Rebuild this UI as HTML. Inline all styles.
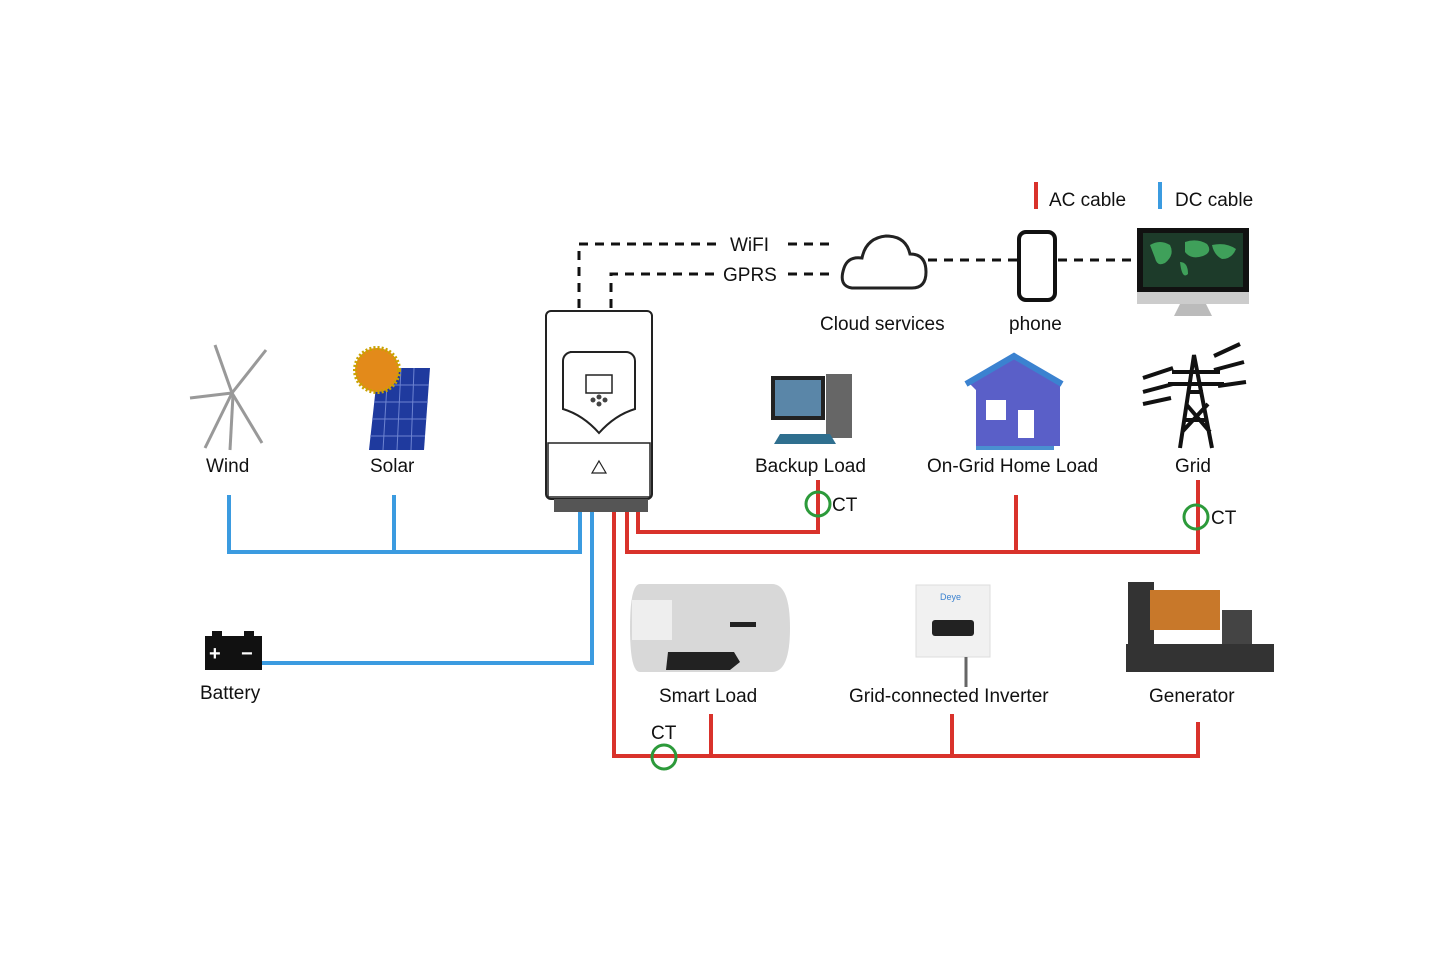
<!DOCTYPE html>
<html><head><meta charset="utf-8"><style>
html,body{margin:0;padding:0;background:#fff;}
svg{display:block;}
text{font-family:"Liberation Sans",Arial,sans-serif;font-size:19px;fill:#111;}
</style></head><body>
<svg width="1445" height="963" viewBox="0 0 1445 963" xmlns="http://www.w3.org/2000/svg">
<rect width="1445" height="963" fill="#fff"/>
<!-- legend -->
<rect x="1034" y="182" width="4" height="27" fill="#d9322b"/>
<text x="1049" y="206">AC cable</text>
<rect x="1158" y="182" width="4" height="27" fill="#3b9be0"/>
<text x="1175" y="206">DC cable</text>
<!-- dashed comm lines -->
<g stroke="#111" stroke-width="3" stroke-dasharray="9,7" fill="none">
<path d="M579 308 V244 H722"/>
<path d="M788 244 H836"/>
<path d="M611 308 V274 H716"/>
<path d="M788 274 H836"/>
<path d="M928 260 H1018"/>
<path d="M1058 260 H1136"/>
</g>
<text x="730" y="251">WiFI</text>
<text x="723" y="281">GPRS</text>
<!-- cloud -->
<path d="M852 288 Q838 286 844 268 Q848 256 862 258 Q866 238 886 236 Q906 236 910 254 Q926 254 926 272 Q926 288 912 288 Z" fill="#fff" stroke="#222" stroke-width="3"/>
<text x="820" y="330">Cloud services</text>
<!-- phone -->
<rect x="1019" y="232" width="36" height="68" rx="7" fill="#fff" stroke="#111" stroke-width="4"/>
<text x="1009" y="330">phone</text>
<!-- monitor -->
<rect x="1137" y="228" width="112" height="64" fill="#111"/>
<rect x="1143" y="233" width="100" height="54" fill="#1d3b2a"/>
<path d="M1150 245 q10 -6 20 0 q5 10 -5 18 q-8 4 -10 -5z M1185 242 q12 -4 22 2 q6 8 -4 12 q-12 4 -18 -4z M1212 245 q14 -3 24 4 q-4 10 -14 10 q-8 -4 -10 -14z M1180 262 q8 0 8 12 q-6 6 -8 -12z" fill="#3fa05a"/>
<rect x="1137" y="292" width="112" height="12" fill="#ccc"/>
<path d="M1180 304 h26 l6 12 h-38z" fill="#bbb"/>
<!-- inverter -->
<rect x="546" y="311" width="106" height="188" rx="5" fill="#fff" stroke="#222" stroke-width="2"/>
<path d="M570 352 h56 a9 9 0 0 1 9 9 v48 q-20 6 -36 24 q-16 -18 -36 -24 v-48 a9 9 0 0 1 9 -9z" fill="#fff" stroke="#222" stroke-width="2"/>
<rect x="586" y="375" width="26" height="18" fill="#fff" stroke="#222" stroke-width="1.5"/>
<circle cx="593" cy="400" r="2.5" fill="#444"/><circle cx="599" cy="397" r="2.5" fill="#444"/><circle cx="605" cy="400" r="2.5" fill="#444"/><circle cx="599" cy="404" r="2.5" fill="#444"/>
<rect x="548" y="443" width="102" height="54" fill="#fff" stroke="#222" stroke-width="1.5"/>
<path d="M599 461 l7 12 h-14z" fill="none" stroke="#222" stroke-width="1.2"/>
<rect x="554" y="499" width="94" height="13" fill="#555"/>
<!-- DC cables -->
<g stroke="#3b9be0" stroke-width="4" fill="none">
<path d="M229 495 V552 H580 V512"/>
<path d="M394 495 V552"/>
<path d="M592 512 V663 H262"/>
</g>
<!-- AC cables -->
<g stroke="#d9322b" stroke-width="4" fill="none">
<path d="M614 512 V756 H1198 V722"/>
<path d="M711 714 V756"/><path d="M952 714 V756"/>
<path d="M627 512 V552 H1198 V480"/>
<path d="M1016 495 V552"/>
<path d="M638 512 V532 H818 V480"/>
</g>
<!-- CTs -->
<g fill="none" stroke="#2c9a3a" stroke-width="3">
<circle cx="818" cy="504" r="12"/><circle cx="1196" cy="517" r="12"/><circle cx="664" cy="757" r="12"/>
</g>
<text x="832" y="511">CT</text>
<text x="1211" y="524">CT</text>
<text x="651" y="739">CT</text>
<!-- wind -->
<g stroke="#999" stroke-width="3" fill="none">
<path d="M230 450 L233 395"/>
<path d="M232 393 L215 345"/><path d="M232 393 L266 350"/><path d="M232 393 L262 443"/><path d="M232 393 L190 398"/><path d="M232 393 L205 448"/>
</g>
<text x="206" y="472">Wind</text>
<!-- solar -->
<path d="M378 368 h52 l-6 82 h-55z" fill="#1f3a9e"/>
<g stroke="#6d83d0" stroke-width="1"><path d="M376 385 h53 M374 402 h54 M372 419 h54 M370 436 h55 M388 368 l-5 82 M401 368 l-4 82 M414 368 l-3 82"/></g>
<circle cx="377" cy="370" r="22" fill="#e38a1a" stroke="#c9a300" stroke-width="4" stroke-dasharray="2,2"/>
<text x="370" y="472">Solar</text>
<!-- backup load pc -->
<rect x="771" y="376" width="54" height="44" fill="#222"/>
<rect x="775" y="380" width="46" height="36" fill="#5a86a8"/>
<rect x="826" y="374" width="26" height="64" fill="#666"/>
<path d="M780 434 h50 l6 10 h-62z" fill="#2f6f8f"/>
<text x="755" y="472">Backup Load</text>
<!-- house -->
<path d="M970 384 L1014 358 L1060 384 V446 H976 V390z" fill="#5a5fc8"/>
<path d="M966 384 L1014 356 L1062 384" fill="none" stroke="#3b82d0" stroke-width="6"/>
<rect x="986" y="400" width="20" height="20" fill="#fff"/><rect x="1018" y="410" width="16" height="28" fill="#fff"/>
<rect x="976" y="446" width="78" height="4" fill="#4a8fd0"/>
<text x="927" y="472">On-Grid Home Load</text>
<!-- tower -->
<g stroke="#111" stroke-width="4" fill="none">
<path d="M1180 448 L1194 355 L1212 448 M1184 420 L1208 420 M1188 392 L1203 392 M1182 432 L1208 404 M1186 404 L1210 432 M1172 372 L1220 372 M1168 384 L1224 384"/>
<path d="M1143 378 l30 -10 M1143 392 l30 -8 M1143 404 l28 -6 M1214 356 l26 -12 M1214 370 l30 -8 M1218 386 l28 -4"/>
</g>
<text x="1175" y="472">Grid</text>
<!-- battery -->
<rect x="212" y="631" width="10" height="6" fill="#111"/><rect x="244" y="631" width="10" height="6" fill="#111"/>
<rect x="205" y="636" width="57" height="34" fill="#111"/>
<text x="209" y="660" style="fill:#fff;font-size:20px;font-weight:bold">+</text>
<text x="241" y="660" style="fill:#fff;font-size:20px;font-weight:bold">−</text>
<text x="200" y="699">Battery</text>
<!-- smart load heater -->
<path d="M640 584 H772 Q790 584 790 628 Q790 672 772 672 H640 Q630 672 630 628 Q630 584 640 584z" fill="#d8d8d8"/>
<rect x="632" y="600" width="40" height="40" fill="#eee"/>
<rect x="730" y="622" width="26" height="5" fill="#222"/>
<path d="M668 652 h66 l6 10 l-10 8 h-64z" fill="#222"/>
<text x="659" y="702">Smart Load</text>
<!-- grid inverter -->
<rect x="916" y="585" width="74" height="72" fill="#f1f1f1" stroke="#ddd"/>
<rect x="932" y="620" width="42" height="16" rx="3" fill="#222"/>
<text x="940" y="600" style="font-size:9px;fill:#3b82d0">Deye</text>
<path d="M966 657 v30" stroke="#666" stroke-width="3"/>
<text x="849" y="702">Grid-connected Inverter</text>
<!-- generator -->
<rect x="1128" y="582" width="26" height="66" fill="#333"/>
<path d="M1150 590 h70 v40 h-70z" fill="#c8782a"/>
<rect x="1222" y="610" width="30" height="36" fill="#444"/>
<rect x="1126" y="644" width="148" height="28" fill="#333"/>
<text x="1149" y="702">Generator</text>
</svg>
</body></html>
